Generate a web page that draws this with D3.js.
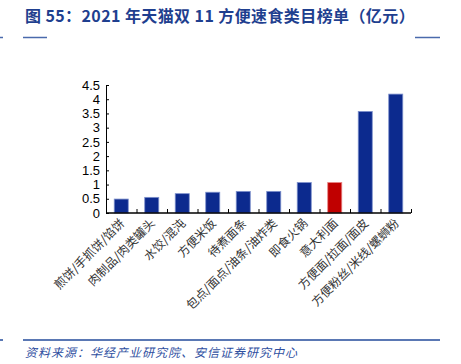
<!DOCTYPE html>
<html>
<head>
<meta charset="utf-8">
<script src="https://cdn.jsdelivr.net/npm/d3@7"></script>
<style>
  body { margin: 0; background: #fff; }
  svg { display: block; }
  .ytick text { font-family: "Liberation Sans", Arial, sans-serif; font-size: 13px; fill: #000; }
  .xlab { font-family: "Noto Sans CJK SC", sans-serif; font-size: 12px; fill: #333; }
</style>
</head>
<body>
<div id="chart"></div>
<script>
const categories = ["煎饼/手抓饼/馅饼", "肉制品/肉类罐头", "水饺/混沌", "方便米饭", "待煮面条",
                    "包点/面点/油条/油炸类", "即食火锅", "意大利面", "方便面/拉面/面皮", "方便粉丝/米线/螺蛳粉"];
const values = [0.49, 0.55, 0.68, 0.73, 0.76, 0.76, 1.07, 1.07, 3.57, 4.18];
const yTicks = [0, 0.5, 1, 1.5, 2, 2.5, 3, 3.5, 4, 4.5];
const highlight = "意大利面";

const svg = d3.select("#chart").append("svg").attr("width", 461).attr("height", 364);
const margin = {top: 85, left: 106, right: 50, bottom: 151};
const width = 461 - margin.left - margin.right,
      height = 364 - margin.top - margin.bottom;

// title
svg.append("text")
    .attr("x", 25).attr("y", 22)
    .attr("font-family", "'Noto Sans CJK SC', sans-serif")
    .attr("font-size", 16).attr("font-weight", "bold")
    .attr("letter-spacing", 0.4)
    .attr("fill", "#1f3f8f")
    .text("图 55：2021 年天猫双 11 方便速食类目榜单（亿元）");

[[0, 3], [23, 47], [415, 440]].forEach(s => {
  svg.append("line").attr("x1", s[0]).attr("x2", s[1]).attr("y1", 37.5).attr("y2", 37.5)
     .attr("stroke", "#4a6aac").attr("stroke-width", 1.5);
});

const g = svg.append("g").attr("transform", "translate(" + margin.left + "," + margin.top + ")");

const x = d3.scaleBand().domain(categories).range([0, width]).paddingInner(0.54).paddingOuter(0.27);
const xb = d3.scaleLinear().domain([0, categories.length]).range([0, width]);
const y = d3.scaleLinear().domain([0, 4.5]).range([height, 0]);

g.selectAll("rect.bar")
  .data(categories)
  .join("rect")
  .attr("class", "bar")
  .attr("x", d => x(d))
  .attr("width", x.bandwidth())
  .attr("y", (d, i) => y(values[i]))
  .attr("height", (d, i) => height - y(values[i]))
  .attr("fill", d => d === highlight ? "#c00000" : "#0c2a8e")
  .attr("stroke", d => d === highlight ? "#e88080" : "#7d90cc")
  .attr("stroke-width", 0.8);

// y axis
const yAxis = g.append("g").attr("class", "ytick")
  .call(d3.axisLeft(y).tickValues(yTicks).tickSize(-3).tickPadding(6).tickFormat(d3.format("")));
yAxis.select(".domain").attr("stroke", "#000");
yAxis.selectAll("line").attr("stroke", "#000");

// x axis
const xAxis = g.append("g").attr("transform", "translate(0," + height + ")")
  .call(d3.axisBottom(xb).tickValues(d3.range(1, categories.length + 1)).tickSize(-4).tickFormat(""));
xAxis.select(".domain").attr("d", "M0,0H" + width).attr("stroke", "#000").attr("stroke-width", 1.5);
xAxis.selectAll("line").attr("stroke", "#000");

g.selectAll("text.xlab")
  .data(categories)
  .join("text")
  .attr("class", "xlab")
  .attr("text-anchor", "end")
  .attr("transform", d => "translate(" + (x(d) + x.bandwidth() / 2 + 4) + "," + (height + 11) + ") rotate(-45)")
  .text(d => d);

// footer
svg.append("line").attr("x1", 0).attr("x2", 3).attr("y1", 340).attr("y2", 340)
   .attr("stroke", "#5a78b4").attr("stroke-width", 2);
svg.append("line").attr("x1", 23).attr("x2", 440).attr("y1", 340).attr("y2", 340)
   .attr("stroke", "#5a78b4").attr("stroke-width", 2);
svg.append("text")
    .attr("x", 25).attr("y", 357)
    .attr("font-family", "'Noto Sans CJK SC', sans-serif")
    .attr("font-size", 12).attr("font-style", "italic")
    .attr("letter-spacing", 1)
    .attr("fill", "#2f4f9f")
    .text("资料来源：华经产业研究院、安信证券研究中心");
</script>
</body>
</html>
